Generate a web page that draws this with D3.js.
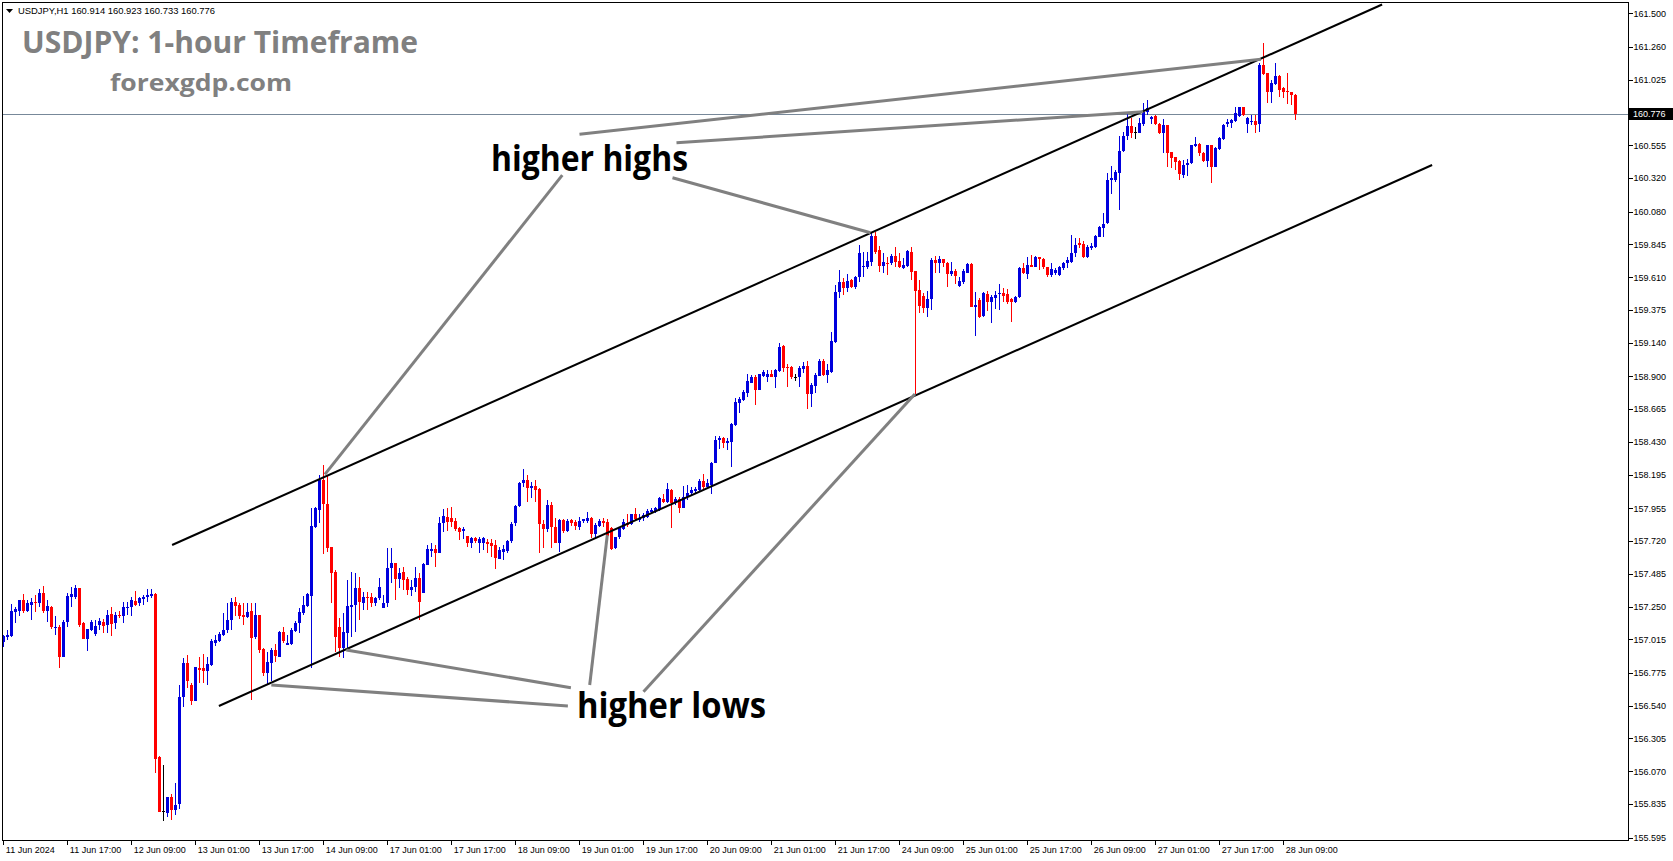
<!DOCTYPE html>
<html><head><meta charset="utf-8">
<script src="https://cdn.jsdelivr.net/npm/d3@7"></script>
<style>html,body{margin:0;padding:0;background:#fff;overflow:hidden}</style>
</head><body>
<svg id="c" width="1673" height="861"></svg>
<script>
// [open, high, low, close] per H1 bar
const candles = [
[156.999,157.047,156.958,157.040],[157.030,157.083,157.011,157.047],[157.040,157.269,157.035,157.221],[157.214,157.250,157.130,157.231],
[157.221,157.297,157.183,157.297],[157.297,157.340,157.202,157.221],[157.221,157.297,157.214,157.274],[157.262,157.314,157.154,157.286],
[157.286,157.333,157.214,157.278],[157.278,157.374,157.250,157.350],[157.350,157.398,157.202,157.221],[157.221,157.297,157.142,157.254],
[157.250,157.254,157.087,157.102],[157.094,157.183,157.047,157.106],[157.106,157.118,156.808,156.891],[156.891,157.154,156.891,157.142],
[157.142,157.345,157.106,157.328],[157.317,157.393,157.250,157.338],[157.321,157.405,157.302,157.386],[157.386,157.386,157.106,157.118],
[157.130,157.142,157.020,157.020],[157.016,157.090,156.934,157.090],[157.083,157.154,157.078,157.142],[157.054,157.154,157.040,157.114],
[157.118,157.166,157.083,157.147],[157.142,157.159,157.059,157.114],[157.116,157.226,157.063,157.190],[157.195,157.250,157.040,157.123],
[157.135,157.214,157.092,157.190],[157.190,157.221,157.166,157.183],[157.183,157.286,157.130,157.245],[157.243,157.286,157.190,157.250],
[157.245,157.317,157.183,157.297],[157.288,157.362,157.254,157.262],[157.274,157.317,157.254,157.314],[157.307,157.333,157.262,157.321],
[157.317,157.374,157.286,157.336],[157.328,157.374,157.314,157.340],[157.340,157.350,156.060,156.161],[156.175,156.180,155.779,155.779],
[155.783,156.115,155.717,155.783],[155.774,155.889,155.745,155.884],[155.884,155.908,155.721,155.793],[155.793,155.984,155.757,155.829],
[155.836,156.689,155.798,156.605],[156.605,156.880,156.533,156.849],[156.849,156.903,156.665,156.720],[156.689,156.705,156.545,156.576],
[156.576,156.820,156.576,156.815],[156.808,156.887,156.705,156.796],[156.808,156.911,156.705,156.791],[156.791,156.891,156.689,156.839],
[156.829,157.016,156.825,157.006],[156.992,157.047,156.968,157.011],[157.004,157.071,156.999,157.054],[157.047,157.207,157.040,157.083],
[157.083,157.278,157.063,157.154],[157.154,157.309,157.083,157.286],[157.286,157.317,157.183,157.257],[157.262,157.278,157.159,157.185],
[157.190,157.274,157.118,157.178],[157.173,157.274,157.166,157.214],[157.216,157.274,156.581,157.025],[157.030,157.274,157.020,157.190],
[157.190,157.190,156.920,156.939],[156.944,156.951,156.753,156.772],[156.777,156.927,156.696,156.851],[156.849,156.951,156.720,156.939],
[156.939,156.980,156.856,156.896],[156.891,157.078,156.891,157.071],[157.071,157.106,156.992,157.006],[156.977,157.047,156.975,156.992],
[156.982,157.094,156.975,157.083],[157.078,157.149,157.071,157.135],[157.130,157.238,157.063,157.214],[157.207,157.326,157.190,157.262],
[157.254,157.350,157.250,157.340],[157.328,157.956,156.808,157.827],[157.817,157.965,157.810,157.953],[157.942,158.192,157.851,158.156],
[158.156,158.264,157.626,157.985],[157.985,158.192,157.643,157.667],[157.674,157.674,157.273,157.493],[157.500,157.512,156.927,157.029],
[157.101,157.165,156.891,156.950],[156.950,157.201,156.879,157.070],[157.063,157.440,156.950,157.254],[157.249,157.500,157.034,157.261],
[157.261,157.488,157.070,157.380],[157.380,157.464,157.153,157.285],[157.273,157.357,157.225,157.321],[157.321,157.357,157.225,157.314],
[157.316,157.345,157.249,157.278],[157.273,157.321,157.254,157.309],[157.309,157.452,157.297,157.392],[157.237,157.333,157.237,157.278],
[157.273,157.667,157.249,157.528],[157.524,157.667,157.416,157.564],[157.564,157.564,157.297,157.450],[157.450,157.524,157.380,157.493],
[157.497,157.536,157.368,157.440],[157.445,157.464,157.333,157.368],[157.368,157.440,157.325,157.392],[157.388,157.536,157.357,157.457],
[157.457,157.488,157.153,157.285],[157.349,157.564,157.349,157.555],[157.548,157.691,157.548,157.660],[157.648,157.708,157.607,157.665],
[157.660,157.691,157.536,157.631],[157.631,157.894,157.631,157.846],[157.846,157.946,157.786,157.899],[157.894,157.953,157.793,157.858],
[157.887,157.961,157.817,157.858],[157.863,157.882,157.793,157.803],[157.810,157.817,157.727,157.786],[157.793,157.817,157.731,157.803],
[157.755,157.755,157.679,157.703],[157.703,157.751,157.667,157.739],[157.739,157.746,157.703,157.722],[157.708,157.746,157.631,157.736],
[157.708,157.751,157.655,157.739],[157.710,157.736,157.631,157.700],[157.703,157.736,157.607,157.684],[157.688,157.727,157.516,157.595],
[157.593,157.674,157.588,157.655],[157.643,157.691,157.583,157.660],[157.648,157.727,157.631,157.719],[157.719,157.858,157.703,157.841],
[157.846,157.977,157.827,157.970],[157.970,158.145,157.965,158.137],[158.133,158.233,158.109,158.156],[158.156,158.192,158.001,158.101],
[158.101,158.145,158.025,158.113],[158.113,158.156,158.001,158.085],[158.090,158.097,157.636,157.841],[157.841,157.870,157.667,157.803],
[157.803,158.013,157.786,157.977],[157.977,158.001,157.667,157.817],[157.817,157.882,157.703,157.708],[157.708,157.875,157.643,157.870],
[157.870,157.875,157.779,157.793],[157.793,157.875,157.786,157.863],[157.870,157.875,157.827,157.851],[157.858,157.870,157.798,157.827],
[157.823,157.889,157.799,157.866],[157.866,157.875,157.846,157.875],[157.866,157.930,157.846,157.887],[157.887,157.894,157.739,157.768],
[157.768,157.846,157.739,157.835],[157.827,157.875,157.818,157.866],[157.866,157.882,157.818,157.851],[157.858,157.875,157.739,157.758],
[157.811,157.823,157.655,157.660],[157.667,157.751,157.660,157.746],[157.746,157.818,157.732,157.811],[157.804,157.875,157.799,157.858],
[157.846,157.913,157.823,157.835],[157.839,157.913,157.835,157.913],[157.913,157.954,157.870,157.875],[157.870,157.913,157.858,157.887],
[157.882,157.923,157.866,157.906],[157.894,157.947,157.882,157.937],[157.930,157.954,157.913,157.942],[157.935,157.966,157.923,157.954],
[157.942,158.033,157.937,158.026],[158.018,158.057,157.995,158.002],[158.002,158.138,157.990,158.090],[158.085,158.090,157.811,157.990],
[157.990,158.038,157.978,158.018],[158.018,158.038,157.923,157.959],[157.959,158.114,157.954,158.038],[158.033,158.121,158.014,158.066],
[158.061,158.104,158.049,158.085],[158.080,158.109,158.066,158.090],[158.085,158.162,158.073,158.150],[158.150,158.200,158.085,158.104],
[158.104,158.162,158.090,158.133],[158.121,158.288,158.057,158.281],[158.276,158.472,158.276,158.443],[158.443,158.472,158.377,158.460],
[158.460,158.467,158.384,158.424],[158.424,158.455,158.372,158.439],[158.431,158.563,158.248,158.558],[158.551,158.742,158.544,158.718],
[158.711,158.749,158.639,158.735],[158.730,158.802,158.725,158.785],[158.783,158.916,158.754,158.868],[158.854,158.909,158.849,158.892],
[158.897,158.909,158.694,158.802],[158.802,158.916,158.802,158.916],[158.902,158.945,158.892,158.933],[158.897,158.945,158.861,158.916],
[158.916,158.945,158.892,158.897],[158.897,158.950,158.818,158.945],[158.940,159.141,158.933,159.112],[159.117,159.124,158.933,158.957],
[158.969,158.988,158.826,158.962],[158.969,158.974,158.878,158.892],[158.892,158.916,158.868,158.892],[158.892,158.974,158.821,158.957],
[158.954,159.005,158.921,158.974],[158.974,159.012,158.668,158.773],[158.773,158.854,158.677,158.837],[158.830,158.921,158.778,158.909],
[158.902,159.021,158.902,159.012],[159.012,159.021,158.902,158.909],[158.909,158.988,158.849,158.945],[158.933,159.220,158.921,159.155],
[159.148,159.554,159.138,159.503],[159.503,159.661,159.461,159.575],[159.575,159.604,159.482,159.532],[159.532,159.632,159.503,159.582],
[159.589,159.594,159.530,159.541],[159.537,159.618,159.522,159.613],[159.608,159.840,159.577,159.785],[159.680,159.792,159.613,159.690],
[159.685,159.792,159.666,159.725],[159.721,159.935,159.690,159.904],[159.904,159.935,159.775,159.792],[159.804,159.833,159.649,159.692],
[159.692,159.780,159.642,159.721],[159.713,159.752,159.625,159.709],[159.709,159.775,159.697,159.761],[159.761,159.828,159.685,159.721],
[159.725,159.780,159.673,159.680],[159.678,159.744,159.666,159.697],[159.692,159.804,159.685,159.797],[159.792,159.828,159.589,159.649],
[159.654,159.656,158.773,159.513],[159.518,159.589,159.350,159.403],[159.475,159.494,159.350,159.386],[159.386,159.513,159.327,159.451],
[159.451,159.744,159.374,159.733],[159.733,159.761,159.637,159.713],[159.713,159.761,159.642,159.737],[159.737,159.737,159.685,159.709],
[159.713,159.721,159.541,159.632],[159.632,159.721,159.618,159.654],[159.654,159.666,159.561,159.618],[159.546,159.613,159.541,159.584],
[159.577,159.666,159.561,159.654],[159.642,159.713,159.637,159.704],[159.704,159.709,159.398,159.398],[159.398,159.506,159.188,159.410],
[159.446,159.458,159.315,159.322],[159.331,159.506,159.327,159.494],[159.489,159.513,159.370,159.434],[159.434,159.482,159.279,159.465],
[159.458,159.513,159.379,159.482],[159.489,159.561,159.374,159.499],[159.499,159.530,159.434,159.475],[159.489,159.522,159.417,159.434],
[159.453,159.458,159.291,159.434],[159.434,159.475,159.427,159.470],[159.465,159.685,159.458,159.678],[159.673,159.713,159.630,159.637],
[159.632,159.756,159.594,159.697],[159.697,159.768,159.680,159.685],[159.685,159.761,159.680,159.752],[159.752,159.756,159.661,159.737],
[159.737,159.744,159.666,159.680],[159.685,159.685,159.608,159.625],[159.625,159.713,159.613,159.668],[159.637,159.673,159.625,159.661],
[159.625,159.690,159.618,159.685],[159.673,159.721,159.661,159.713],[159.709,159.756,159.673,159.733],[159.721,159.912,159.713,159.785],
[159.780,159.888,159.756,159.840],[159.852,159.888,159.816,159.840],[159.847,159.871,159.744,159.756],[159.756,159.840,159.744,159.828],
[159.816,159.852,159.804,159.833],[159.828,159.912,159.816,159.904],[159.900,159.979,159.895,159.971],[159.964,160.072,159.900,159.990],
[159.995,160.358,159.990,160.306],[160.305,160.406,160.205,160.317],[160.305,160.377,160.293,160.365],[160.358,160.621,160.091,160.516],
[160.516,160.652,160.508,160.621],[160.621,160.795,160.592,160.692],[160.692,160.747,160.604,160.645],[160.652,160.683,160.597,160.652],
[160.645,160.747,160.640,160.711],[160.707,160.855,160.692,160.795],[160.795,160.879,160.771,160.819],[160.745,160.764,160.707,160.754],
[160.764,160.771,160.699,160.707],[160.707,160.711,160.635,160.640],[160.640,160.740,160.501,160.699],[160.699,160.699,160.401,160.501],
[160.506,160.506,160.389,160.461],[160.468,160.473,160.377,160.437],[160.442,160.449,160.305,160.346],[160.341,160.449,160.317,160.413],
[160.413,160.453,160.336,160.430],[160.425,160.556,160.420,160.556],[160.549,160.611,160.544,160.563],[160.563,160.573,160.477,160.496],
[160.501,160.508,160.437,160.444],[160.444,160.556,160.401,160.556],[160.556,160.556,160.286,160.401],[160.401,160.539,160.396,160.532],
[160.525,160.611,160.520,160.604],[160.597,160.707,160.592,160.699],[160.707,160.740,160.687,160.723],[160.716,160.740,160.676,160.735],
[160.730,160.826,160.723,160.783],[160.764,160.831,160.759,160.831],[160.831,160.831,160.764,160.771],[160.707,160.754,160.640,160.747],
[160.723,160.771,160.699,160.730],[160.730,160.771,160.640,160.699],[160.707,161.141,160.652,161.129],[161.129,161.289,161.058,161.065],
[161.074,161.074,160.859,160.938],[160.938,161.022,160.859,161.003],[160.993,161.146,160.986,161.050],[161.050,161.058,160.898,160.950],
[160.962,160.969,160.890,160.938],[160.943,161.070,160.850,160.933],[160.938,160.938,160.843,160.914],[160.914,160.923,160.733,160.776]
];
const priceTicks = [161.500,161.260,161.025,160.555,160.320,160.080,159.845,159.610,159.375,159.140,158.900,158.665,
  158.430,158.195,157.955,157.720,157.485,157.250,157.015,156.775,156.540,156.305,156.070,155.835,155.595];
const timeLabels = ["11 Jun 2024","11 Jun 17:00","12 Jun 09:00","13 Jun 01:00","13 Jun 17:00","14 Jun 09:00","17 Jun 01:00",
  "17 Jun 17:00","18 Jun 09:00","19 Jun 01:00","19 Jun 17:00","20 Jun 09:00","21 Jun 01:00","21 Jun 17:00","24 Jun 09:00",
  "25 Jun 01:00","25 Jun 17:00","26 Jun 09:00","27 Jun 01:00","27 Jun 17:00","28 Jun 09:00"];
const timeLabelBars = [0,16,32,48,64,80,96,112,128,144,160,176,192,208,224,240,256,272,288,304,320];
const lastPrice = 160.776;
const headerText = "USDJPY,H1  160.914 160.923 160.733 160.776";
// channel lines: [barFrom, priceFrom, barTo, priceTo]
const channelLines = [[42.2,157.691,344.7,161.563],[53.9,156.538,357.2,160.413]];
// grey pointer lines from the annotations
const highPointers = [[144.05,160.633,314.4,161.170],[168.3,160.573,285.0,160.795],[167.3,160.322,216.8,159.928],[139.75,160.341,80.4,158.197]];
const lowPointers = [[141.15,156.538,67.0,156.688],[141.9,156.669,85.75,156.939],[146.6,156.688,151.0,157.763],[160.05,156.640,227.9,158.773]];

const svg = d3.select("#c");
const W = 1673, H = 861;
const plotL = 2, plotR = 1628, plotT = 2, plotB = 840;
const x = d3.scaleLinear().domain([0, 406]).range([3.3, 1627.3]);
const y = d3.scaleLinear().domain([155.595, 161.5]).range([837.6, 13.3]);

svg.append("rect").attr("width", W).attr("height", H).attr("fill", "#fff");

const plot = svg.append("g");
// current price line
plot.append("line").attr("x1", plotL).attr("x2", plotR)
  .attr("y1", Math.round(y(lastPrice)) + 0.5).attr("y2", Math.round(y(lastPrice)) + 0.5)
  .attr("stroke", "#778899").attr("stroke-width", 1);

const col = d => d[3] > d[0] ? "#0000dd" : (d[3] < d[0] ? "#ff0000" : "#000000");
const cg = plot.append("g").attr("shape-rendering", "crispEdges");
cg.selectAll("line.w").data(candles).join("line").attr("class", "w")
  .attr("x1", (d, i) => Math.round(x(i)) + 0.5).attr("x2", (d, i) => Math.round(x(i)) + 0.5)
  .attr("y1", d => y(d[1])).attr("y2", d => y(d[2]))
  .attr("stroke", col).attr("stroke-width", 1);
cg.selectAll("rect.b").data(candles).join("rect").attr("class", "b")
  .attr("x", (d, i) => Math.round(x(i)) - 1).attr("width", 3)
  .attr("y", d => Math.round(y(Math.max(d[0], d[3]))))
  .attr("height", d => Math.max(1, Math.round(y(Math.min(d[0], d[3]))) - Math.round(y(Math.max(d[0], d[3])))))
  .attr("fill", col);

// channel
plot.selectAll("line.ch").data(channelLines).join("line").attr("class", "ch")
  .attr("x1", d => x(d[0])).attr("y1", d => y(d[1])).attr("x2", d => x(d[2])).attr("y2", d => y(d[3]))
  .attr("stroke", "#000").attr("stroke-width", 2);
// pointers
plot.selectAll("line.pt").data(highPointers.concat(lowPointers)).join("line").attr("class", "pt")
  .attr("x1", d => x(d[0])).attr("y1", d => y(d[1])).attr("x2", d => x(d[2])).attr("y2", d => y(d[3]))
  .attr("stroke", "#808080").attr("stroke-width", 3);

// annotation texts
const ann = svg.append("g").attr("font-family", "'Liberation Sans Narrow','Open Sans',sans-serif").attr("font-weight", 700).attr("fill", "#000");
ann.append("text").attr("x", 491).attr("y", 171).attr("font-size", 36).attr("textLength", 197).attr("lengthAdjust", "spacingAndGlyphs").text("higher highs");
ann.append("text").attr("x", 577).attr("y", 718).attr("font-size", 36).attr("textLength", 189).attr("lengthAdjust", "spacingAndGlyphs").text("higher lows");

// title
const tg = svg.append("g").attr("font-family", "'Open Sans',sans-serif").attr("font-weight", 700).attr("fill", "#808080");
tg.append("text").attr("x", 22).attr("y", 53).attr("font-size", 30).attr("textLength", 396).attr("lengthAdjust", "spacingAndGlyphs").text("USDJPY: 1-hour Timeframe");
tg.append("text").attr("x", 110).attr("y", 91).attr("font-size", 24).attr("textLength", 182).attr("lengthAdjust", "spacingAndGlyphs").text("forexgdp.com");

// header
svg.append("path").attr("d", "M6,9 L13,9 L9.5,13 Z").attr("fill", "#000");
svg.append("text").attr("x", 18).attr("y", 14).attr("font-family", "'Liberation Sans',Arial,sans-serif").attr("font-size", 9.5)
  .attr("textLength", 197).attr("lengthAdjust", "spacingAndGlyphs").attr("fill", "#000").text(headerText);

// frame
svg.append("rect").attr("x", plotL + 0.5).attr("y", plotT + 0.5).attr("width", plotR - plotL).attr("height", plotB - plotT)
  .attr("fill", "none").attr("stroke", "#000").attr("stroke-width", 1).attr("shape-rendering", "crispEdges");

// axes
const ya = svg.append("g").attr("transform", `translate(${plotR + 0.5},0)`)
  .call(d3.axisRight(y).tickValues(priceTicks).tickFormat(d3.format(".3f")).tickSize(4).tickPadding(1));
ya.select(".domain").remove();
ya.selectAll("text").attr("font-family", "'Liberation Sans',Arial,sans-serif").attr("font-size", 9).attr("fill", "#000");
ya.selectAll("line").attr("stroke", "#000").attr("shape-rendering", "crispEdges");

const xa = svg.append("g").attr("transform", `translate(0,${plotB + 0.5})`)
  .call(d3.axisBottom(x).tickValues(timeLabelBars).tickFormat((d, i) => timeLabels[i]).tickSize(4));
xa.select(".domain").remove();
xa.selectAll("text").attr("font-family", "'Liberation Sans',Arial,sans-serif").attr("font-size", 9).attr("fill", "#000")
  .attr("text-anchor", "start").attr("x", 2).attr("y", 6);
xa.selectAll("line").attr("stroke", "#000").attr("shape-rendering", "crispEdges");

// last price label
const ly = y(lastPrice);
svg.append("rect").attr("x", plotR + 1).attr("y", Math.round(ly) - 6).attr("width", 44).attr("height", 12).attr("fill", "#000");
svg.append("text").attr("x", plotR + 5).attr("y", ly).attr("dy", "0.32em").attr("font-family", "'Liberation Sans',Arial,sans-serif")
  .attr("font-size", 9).attr("fill", "#fff").text(d3.format(".3f")(lastPrice));
</script>
</body></html>
